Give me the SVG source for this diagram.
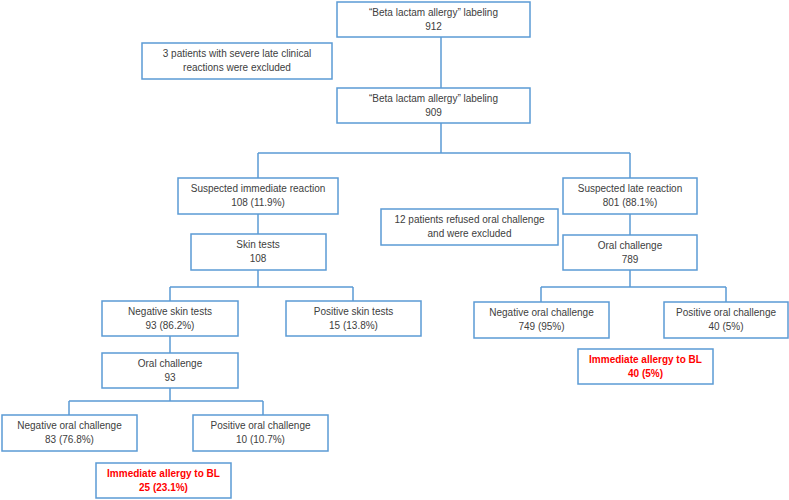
<svg xmlns="http://www.w3.org/2000/svg" width="789" height="500" viewBox="0 0 789 500">
<style>
rect{fill:#fff;stroke:#5B9BD5;stroke-width:1.5}
text{font-family:"Liberation Sans",Arial,sans-serif;font-size:10px;fill:#404040;text-anchor:middle}
.red{fill:#FF0000;font-weight:bold}
#connectors path{fill:none;stroke:#5B9BD5;stroke-width:1.5}
</style>
<rect x="0" y="0" width="789" height="500" style="stroke:none"/>
<g id="connectors">
<path d="M441 37V88"/>
<path d="M441 123V153M258 153H630M258 153V178M630 153V178"/>
<path d="M258 214V234"/>
<path d="M258 270V287M170 287H353M170 287V301M353 287V301"/>
<path d="M170 336V353"/>
<path d="M170 388V401M69 401H263M69 401V415M263 401V415"/>
<path d="M630 214V235"/>
<path d="M630 270V287M541 287H726M541 287V302M726 287V302"/>
</g>
<g id="n912"><rect x="337" y="2" width="193" height="35"/><text x="433.5" y="16">“Beta lactam allergy” labeling</text><text x="433.5" y="30">912</text></g>
<g id="excluded3"><rect x="142" y="43" width="190" height="36"/><text x="237" y="57">3 patients with severe late clinical</text><text x="237" y="71">reactions were excluded</text></g>
<g id="n909"><rect x="337" y="88" width="193" height="35"/><text x="433.5" y="102">“Beta lactam allergy” labeling</text><text x="433.5" y="116">909</text></g>
<g id="immediate"><rect x="178" y="178" width="160" height="36"/><text x="258" y="192">Suspected immediate reaction</text><text x="258" y="206">108 (11.9%)</text></g>
<g id="late"><rect x="563" y="178" width="134" height="36"/><text x="630" y="192">Suspected late reaction</text><text x="630" y="206">801 (88.1%)</text></g>
<g id="refused"><rect x="381" y="209" width="177" height="36"/><text x="469.5" y="223">12 patients refused oral challenge</text><text x="469.5" y="237">and were excluded</text></g>
<g id="skin"><rect x="191" y="234" width="135" height="36"/><text x="258" y="248">Skin tests</text><text x="258" y="262">108</text></g>
<g id="oral789"><rect x="563" y="235" width="134" height="35"/><text x="630" y="249">Oral challenge</text><text x="630" y="263">789</text></g>
<g id="negskin"><rect x="102" y="301" width="136" height="35"/><text x="170" y="315">Negative skin tests</text><text x="170" y="329">93 (86.2%)</text></g>
<g id="posskin"><rect x="286" y="301" width="135" height="35"/><text x="353.5" y="315">Positive skin tests</text><text x="353.5" y="329">15 (13.8%)</text></g>
<g id="negoral749"><rect x="474" y="302" width="135" height="36"/><text x="541.5" y="316">Negative oral challenge</text><text x="541.5" y="330">749 (95%)</text></g>
<g id="posoral40"><rect x="664" y="302" width="124" height="36"/><text x="726" y="316">Positive oral challenge</text><text x="726" y="330">40 (5%)</text></g>
<g id="allergy40"><rect x="578" y="349" width="135" height="35"/><text class="red" x="645.5" y="363">Immediate allergy to BL</text><text class="red" x="645.5" y="377">40 (5%)</text></g>
<g id="oral93"><rect x="102" y="353" width="136" height="35"/><text x="170" y="367">Oral challenge</text><text x="170" y="381">93</text></g>
<g id="negoral83"><rect x="2" y="415" width="135" height="36"/><text x="69.5" y="429">Negative oral challenge</text><text x="69.5" y="443">83 (76.8%)</text></g>
<g id="posoral10"><rect x="193" y="415" width="135" height="36"/><text x="260.5" y="429">Positive oral challenge</text><text x="260.5" y="443">10 (10.7%)</text></g>
<g id="allergy25"><rect x="96" y="463" width="135" height="35"/><text class="red" x="163.5" y="477">Immediate allergy to BL</text><text class="red" x="163.5" y="491">25 (23.1%)</text></g>
</svg>
